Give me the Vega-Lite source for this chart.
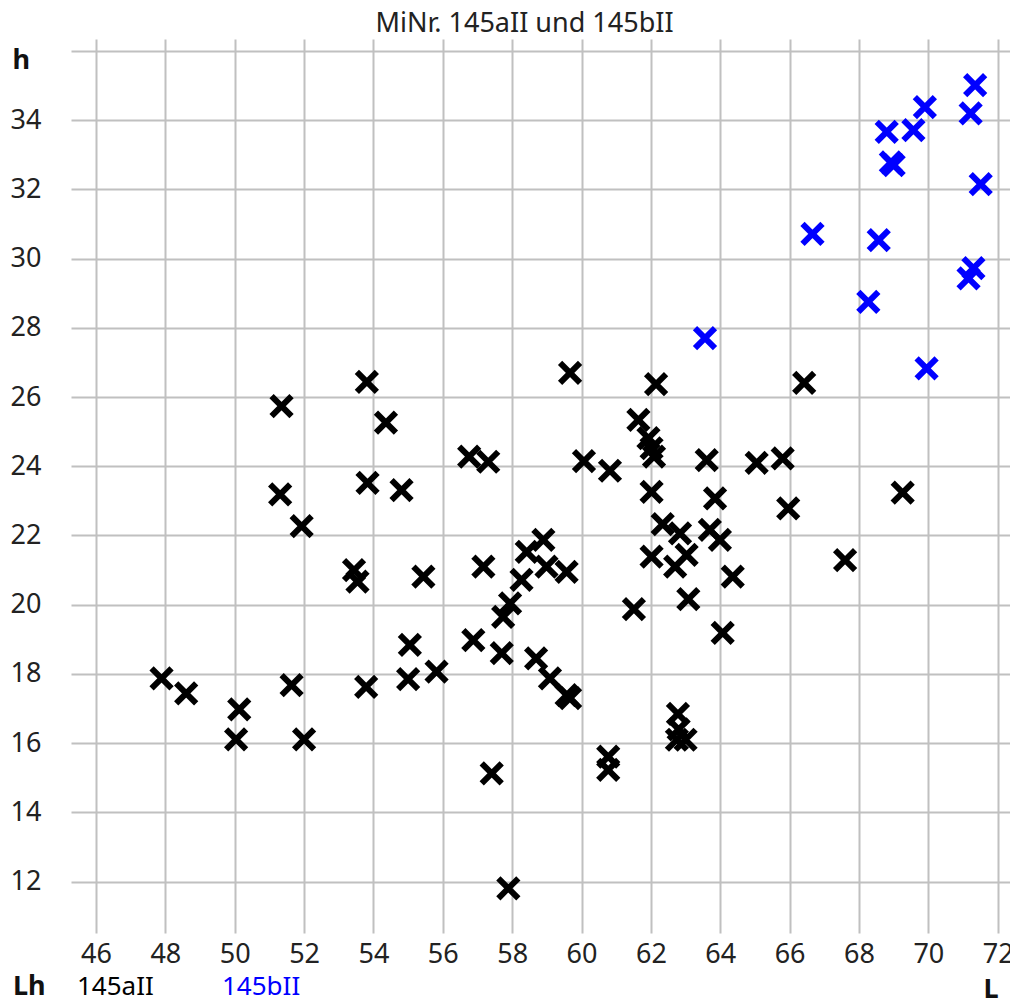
{
  "$schema": "https://vega.github.io/schema/vega-lite/v6.json",
  "width": 939,
  "height": 894,
  "autosize": {"type": "none"},
  "padding": {"left": 71, "top": 39, "right": 0, "bottom": 67},
  "background": "white",
  "title": {"text": "MiNr. 145aII und 145bII", "frame": "group", "anchor": "middle", "dx": -16, "dy": 28, "offset": 6, "baseline": "alphabetic", "fontSize": 27, "fontWeight": "normal", "font": "Noto Sans", "color": "#222222"},
  "config": {"view": {"stroke": null}, "font": "Noto Sans"},
  "data": {"values": [
    {"L": 47.89, "h": 17.87, "serie": "145aII"},
    {"L": 48.60, "h": 17.44, "serie": "145aII"},
    {"L": 50.13, "h": 16.98, "serie": "145aII"},
    {"L": 50.04, "h": 16.11, "serie": "145aII"},
    {"L": 51.35, "h": 25.74, "serie": "145aII"},
    {"L": 51.31, "h": 23.19, "serie": "145aII"},
    {"L": 51.64, "h": 17.68, "serie": "145aII"},
    {"L": 51.93, "h": 22.27, "serie": "145aII"},
    {"L": 52.00, "h": 16.11, "serie": "145aII"},
    {"L": 53.44, "h": 21.00, "serie": "145aII"},
    {"L": 53.54, "h": 20.67, "serie": "145aII"},
    {"L": 53.81, "h": 26.44, "serie": "145aII"},
    {"L": 53.83, "h": 23.52, "serie": "145aII"},
    {"L": 53.79, "h": 17.63, "serie": "145aII"},
    {"L": 54.36, "h": 25.26, "serie": "145aII"},
    {"L": 54.81, "h": 23.31, "serie": "145aII"},
    {"L": 55.05, "h": 18.84, "serie": "145aII"},
    {"L": 55.00, "h": 17.85, "serie": "145aII"},
    {"L": 55.44, "h": 20.81, "serie": "145aII"},
    {"L": 55.82, "h": 18.07, "serie": "145aII"},
    {"L": 56.76, "h": 24.28, "serie": "145aII"},
    {"L": 57.31, "h": 24.13, "serie": "145aII"},
    {"L": 57.17, "h": 21.10, "serie": "145aII"},
    {"L": 56.88, "h": 18.98, "serie": "145aII"},
    {"L": 57.41, "h": 15.13, "serie": "145aII"},
    {"L": 57.70, "h": 18.60, "serie": "145aII"},
    {"L": 57.74, "h": 19.65, "serie": "145aII"},
    {"L": 57.94, "h": 20.04, "serie": "145aII"},
    {"L": 57.89, "h": 11.81, "serie": "145aII"},
    {"L": 58.27, "h": 20.72, "serie": "145aII"},
    {"L": 58.42, "h": 21.53, "serie": "145aII"},
    {"L": 58.90, "h": 21.87, "serie": "145aII"},
    {"L": 58.99, "h": 21.10, "serie": "145aII"},
    {"L": 59.57, "h": 20.95, "serie": "145aII"},
    {"L": 58.69, "h": 18.45, "serie": "145aII"},
    {"L": 59.09, "h": 17.87, "serie": "145aII"},
    {"L": 59.57, "h": 17.39, "serie": "145aII"},
    {"L": 59.67, "h": 17.30, "serie": "145aII"},
    {"L": 59.67, "h": 26.70, "serie": "145aII"},
    {"L": 60.07, "h": 24.15, "serie": "145aII"},
    {"L": 60.82, "h": 23.87, "serie": "145aII"},
    {"L": 60.77, "h": 15.61, "serie": "145aII"},
    {"L": 60.77, "h": 15.23, "serie": "145aII"},
    {"L": 61.64, "h": 25.34, "serie": "145aII"},
    {"L": 61.93, "h": 24.81, "serie": "145aII"},
    {"L": 62.02, "h": 24.52, "serie": "145aII"},
    {"L": 62.09, "h": 24.28, "serie": "145aII"},
    {"L": 62.15, "h": 26.37, "serie": "145aII"},
    {"L": 62.02, "h": 23.26, "serie": "145aII"},
    {"L": 62.34, "h": 22.33, "serie": "145aII"},
    {"L": 62.02, "h": 21.39, "serie": "145aII"},
    {"L": 61.51, "h": 19.87, "serie": "145aII"},
    {"L": 62.84, "h": 22.06, "serie": "145aII"},
    {"L": 62.70, "h": 21.10, "serie": "145aII"},
    {"L": 63.03, "h": 21.44, "serie": "145aII"},
    {"L": 63.08, "h": 20.16, "serie": "145aII"},
    {"L": 62.78, "h": 16.85, "serie": "145aII"},
    {"L": 62.80, "h": 16.40, "serie": "145aII"},
    {"L": 62.75, "h": 16.10, "serie": "145aII"},
    {"L": 63.00, "h": 16.10, "serie": "145aII"},
    {"L": 63.61, "h": 24.18, "serie": "145aII"},
    {"L": 63.85, "h": 23.07, "serie": "145aII"},
    {"L": 63.70, "h": 22.16, "serie": "145aII"},
    {"L": 63.99, "h": 21.87, "serie": "145aII"},
    {"L": 64.36, "h": 20.81, "serie": "145aII"},
    {"L": 64.07, "h": 19.19, "serie": "145aII"},
    {"L": 65.05, "h": 24.10, "serie": "145aII"},
    {"L": 65.80, "h": 24.23, "serie": "145aII"},
    {"L": 65.96, "h": 22.78, "serie": "145aII"},
    {"L": 66.42, "h": 26.41, "serie": "145aII"},
    {"L": 67.60, "h": 21.29, "serie": "145aII"},
    {"L": 69.26, "h": 23.24, "serie": "145aII"},
    {"L": 71.35, "h": 35.01, "serie": "145bII"},
    {"L": 69.90, "h": 34.37, "serie": "145bII"},
    {"L": 71.22, "h": 34.19, "serie": "145bII"},
    {"L": 68.80, "h": 33.66, "serie": "145bII"},
    {"L": 69.57, "h": 33.71, "serie": "145bII"},
    {"L": 68.92, "h": 32.78, "serie": "145bII"},
    {"L": 69.00, "h": 32.70, "serie": "145bII"},
    {"L": 71.51, "h": 32.15, "serie": "145bII"},
    {"L": 66.66, "h": 30.71, "serie": "145bII"},
    {"L": 68.57, "h": 30.53, "serie": "145bII"},
    {"L": 71.30, "h": 29.72, "serie": "145bII"},
    {"L": 71.16, "h": 29.43, "serie": "145bII"},
    {"L": 68.27, "h": 28.75, "serie": "145bII"},
    {"L": 63.56, "h": 27.70, "serie": "145bII"},
    {"L": 69.95, "h": 26.83, "serie": "145bII"}
  ]},
  "mark": {"type": "point", "shape": "M-1,-1L1,1M1,-1L-1,1", "size": 400, "strokeWidth": 6, "filled": false, "opacity": 1},
  "encoding": {
    "x": {
      "field": "L", "type": "quantitative",
      "scale": {"domain": [45.279, 72.355], "nice": false, "zero": false},
      "axis": {
        "values": [46, 48, 50, 52, 54, 56, 58, 60, 62, 64, 66, 68, 70, 72],
        "grid": true, "gridColor": "#c0c0c0", "gridWidth": 2, "domain": false, "ticks": false,
        "labelFontSize": 27, "labelColor": "#222222", "labelPadding": 29, "labelBaseline": "alphabetic", "labelFlush": false, "labelOverlap": false,
        "title": "L", "titleFontWeight": "bold", "titleFontSize": 27, "titleColor": "#111111",
        "titleX": 912, "titleY": 64, "titleAlign": "left", "titleBaseline": "alphabetic"
      }
    },
    "y": {
      "field": "h", "type": "quantitative",
      "scale": {"domain": [10.518, 36.341], "nice": false, "zero": false},
      "axis": {
        "values": [12, 14, 16, 18, 20, 22, 24, 26, 28, 30, 32, 34, 36],
        "labelExpr": "datum.value > 35 ? '' : datum.label",
        "grid": true, "gridColor": "#c0c0c0", "gridWidth": 2, "domain": false, "ticks": false,
        "labelFontSize": 27, "labelColor": "#222222", "labelPadding": 30, "labelFlush": false, "labelOverlap": false,
        "title": "h", "titleFontWeight": "bold", "titleFontSize": 27, "titleColor": "#111111", "titleAngle": 0,
        "titleX": -59, "titleY": 29, "titleAlign": "left", "titleBaseline": "alphabetic"
      }
    },
    "color": {
      "field": "serie", "type": "nominal",
      "scale": {"domain": ["145aII", "145bII"], "range": ["#000000", "#0000ff"]},
      "legend": {
        "orient": "none", "legendX": -58, "legendY": 935, "direction": "horizontal",
        "title": "Lh", "titleOrient": "left", "titleFontSize": 27, "titleFontWeight": "bold", "titleColor": "#111111", "titlePadding": 1,
        "labelFontSize": 26, "labelOffset": 4, "columnPadding": 38, "padding": 0,
        "labelColor": {"expr": "datum.value === '145bII' ? '#0000ff' : '#000000'"},
        "symbolSize": 0, "symbolOpacity": 0, "symbolStrokeWidth": 0
      }
    }
  }
}
